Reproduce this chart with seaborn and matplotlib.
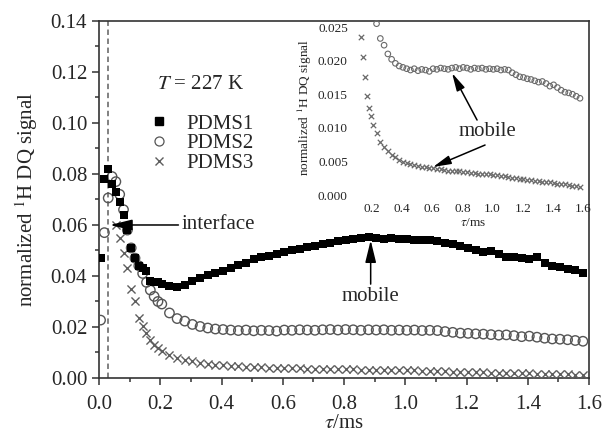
import numpy as np
import pandas as pd
import matplotlib
matplotlib.use("Agg")
import matplotlib.pyplot as plt
from matplotlib.lines import Line2D
from matplotlib.ticker import MultipleLocator, FormatStrFormatter
import seaborn as sns

# DQ evolution time (ms)
tau = [0.005, 0.0175, 0.03, 0.0425, 0.055, 0.0675, 0.08, 0.0925, 0.105, 0.1175,
       0.13, 0.1425, 0.155, 0.1675, 0.18, 0.1925, 0.205,
       0.23, 0.255, 0.28, 0.305, 0.33, 0.355, 0.38, 0.405, 0.43, 0.455,
       0.48, 0.505, 0.53, 0.555, 0.58, 0.605, 0.63, 0.655, 0.68, 0.705,
       0.73, 0.755, 0.78, 0.805, 0.83, 0.855, 0.88, 0.905, 0.93, 0.955,
       0.98, 1.005, 1.03, 1.055, 1.08, 1.105, 1.13, 1.155, 1.18, 1.205,
       1.23, 1.255, 1.28, 1.305, 1.33, 1.355, 1.38, 1.405, 1.43, 1.455,
       1.48, 1.505, 1.53, 1.555, 1.58]

# normalized 1H DQ signal of the three samples
pdms1 = [0.047, 0.078, 0.082, 0.076, 0.073, 0.069, 0.064, 0.058, 0.051, 0.047,
         0.044, 0.043, 0.042, 0.038, 0.0375, 0.0375, 0.037,
         0.0362, 0.0358, 0.0365, 0.0382, 0.0393, 0.0402, 0.0412, 0.042, 0.0432, 0.0442,
         0.0452, 0.0465, 0.0473, 0.0478, 0.0488, 0.0496, 0.0502, 0.0507, 0.0513, 0.0518,
         0.0525, 0.053, 0.0536, 0.054, 0.0545, 0.0548, 0.0553, 0.0549, 0.0546, 0.0548,
         0.0546, 0.0544, 0.0542, 0.0543, 0.054, 0.0536, 0.0531, 0.0526, 0.0518, 0.051,
         0.0502, 0.0494, 0.0498, 0.0486, 0.0476, 0.0474, 0.0472, 0.0468, 0.0474, 0.0452,
         0.0438, 0.0434, 0.0428, 0.0422, 0.0412]

pdms2 = [0.0227, 0.057, 0.0706, 0.079, 0.077, 0.072, 0.066, 0.058, 0.051, 0.047,
         0.044, 0.041, 0.0375, 0.0345, 0.032, 0.030, 0.029,
         0.0255, 0.0233, 0.0223, 0.021, 0.0202, 0.0196, 0.0192, 0.019, 0.0188, 0.0186,
         0.0188, 0.0185, 0.0187, 0.0186, 0.0184, 0.0188, 0.0187, 0.0189, 0.0188, 0.0187,
         0.0189, 0.019, 0.0188, 0.019, 0.0189, 0.0187, 0.0189, 0.0188, 0.0189, 0.0187,
         0.0188, 0.0187, 0.0188, 0.0186, 0.0187, 0.0186, 0.0182, 0.0179, 0.0176, 0.0175,
         0.0173, 0.0172, 0.017, 0.0168, 0.0169, 0.0166, 0.0162, 0.0164, 0.016, 0.0156,
         0.0153, 0.0152, 0.015, 0.0147, 0.0144]

pdms3 = [np.nan, np.nan, np.nan, np.nan, 0.060, 0.055, 0.049, 0.043, 0.035, 0.030,
         0.0235, 0.0205, 0.0175, 0.0148, 0.013, 0.0118, 0.0104,
         0.0092, 0.0079, 0.0072, 0.0065, 0.006, 0.0056, 0.0052, 0.0049, 0.0047, 0.0046,
         0.0044, 0.0043, 0.0042, 0.0041, 0.004, 0.004, 0.0039, 0.0038, 0.0037, 0.0036,
         0.0036, 0.0035, 0.0035, 0.0034, 0.0034, 0.0033, 0.0033, 0.0032, 0.0032, 0.0031,
         0.0031, 0.003, 0.003, 0.0029, 0.0028, 0.0027, 0.0026, 0.0025, 0.0024, 0.0024,
         0.0023, 0.0022, 0.0021, 0.0021, 0.002, 0.0019, 0.0019, 0.0018, 0.0017, 0.0017,
         0.0016, 0.0015, 0.0014, 0.0013, 0.0012]

samples = ["PDMS1", "PDMS2", "PDMS3"]
temperature_label = "$T$ = 227 K"
interface_tau = 0.03

df = pd.DataFrame({"tau": tau, "PDMS1": pdms1, "PDMS2": pdms2, "PDMS3": pdms3})

sns.set_theme(style="ticks")
plt.rcParams["font.family"] = ["Liberation Serif", "DejaVu Serif"]
plt.rcParams["mathtext.fontset"] = "stix"
plt.rcParams["axes.edgecolor"] = "#333333"

FS = 15
fig = plt.figure(figsize=(6.06, 4.41), dpi=100)
ax = fig.add_axes([0.1634, 0.1429, 0.8086, 0.8095])

circ_col = "#555555"
cross_col = "#5e5e5e"

sns.scatterplot(data=df, x="tau", y="PDMS3", marker="x", color=cross_col,
                s=34, linewidth=1.0, ax=ax, zorder=3)
sns.scatterplot(data=df, x="tau", y="PDMS2", marker="o", color=circ_col,
                edgecolor=circ_col, s=46, linewidth=1.0, ax=ax, zorder=3)
ax.collections[-1].set_facecolor("none")
sns.scatterplot(data=df, x="tau", y="PDMS1", marker="s", color="black",
                s=36, linewidth=0, ax=ax, zorder=4)

ax.axvline(interface_tau, color="#777777", ls=(0, (3, 2)), lw=1.3, zorder=1)

ax.set_xlim(0, 1.6)
ax.set_ylim(0, 0.14)
ax.xaxis.set_major_locator(MultipleLocator(0.2))
ax.xaxis.set_minor_locator(MultipleLocator(0.1))
ax.yaxis.set_major_locator(MultipleLocator(0.02))
ax.yaxis.set_minor_locator(MultipleLocator(0.01))
ax.xaxis.set_major_formatter(FormatStrFormatter("%.1f"))
ax.yaxis.set_major_formatter(FormatStrFormatter("%.2f"))
ax.tick_params(which="both", direction="out", top=False, right=False,
               color="#333333", width=1.1, labelsize=FS)
ax.tick_params(which="major", length=5)
ax.tick_params(which="minor", length=3)
ax.tick_params(axis="x", which="major", pad=7)
for sp in ax.spines.values():
    sp.set_visible(True)
    sp.set_linewidth(1.2)

ax.set_xlabel(r"$\tau$/ms", fontsize=FS, labelpad=0)
ax.set_ylabel(r"normalized $^{1}$H DQ signal", fontsize=FS, labelpad=8)

ax.text(0.189, 0.1149, temperature_label, fontsize=FS, ha="left", va="center")
handles = [
    Line2D([], [], ls="", marker="s", color="black", markersize=6),
    Line2D([], [], ls="", marker="o", markerfacecolor="none",
           markeredgecolor=circ_col, markersize=6.5, markeredgewidth=0.9),
    Line2D([], [], ls="", marker="x", color=cross_col, markersize=6,
           markeredgewidth=1.0),
]
leg = ax.legend(handles, samples, loc="upper left",
                bbox_to_anchor=(0.105, 0.739), frameon=False, fontsize=FS,
                handlelength=0.8, handletextpad=0.9,
                labelspacing=0.0, borderpad=0, borderaxespad=0)

arrow_kw = dict(arrowstyle="-|>,head_width=0.22,head_length=0.9",
                color="black", lw=1.1, shrinkA=0, shrinkB=0)
ax.annotate("interface", xy=(0.036, 0.060), xytext=(0.27, 0.060),
            fontsize=FS, va="center", ha="left", arrowprops=arrow_kw)
ax.annotate("mobile", xy=(0.887, 0.054), xytext=(0.887, 0.0318),
            fontsize=FS, va="center", ha="center",
            arrowprops=dict(arrow_kw, relpos=(0.5, 1.0)))

# inset: mobile-phase plateau at higher magnification
ins = fig.add_axes([0.5878, 0.5578, 0.3842, 0.3961])
ins.set_facecolor("none")
sns.scatterplot(data=df, x="tau", y="PDMS2", marker="o", color="#6a6a6a",
                edgecolor="#6a6a6a", s=16, linewidth=0.8, ax=ins)
ins.collections[-1].set_facecolor("none")
sns.scatterplot(data=df, x="tau", y="PDMS3", marker="x", color="#6a6a6a",
                s=15, linewidth=0.9, ax=ins)
ins.set_xlim(0.095, 1.64)
ins.set_ylim(0, 0.026)
ins.yaxis.set_major_locator(MultipleLocator(0.005))
ins.xaxis.set_major_formatter(FormatStrFormatter("%.1f"))
ins.yaxis.set_major_formatter(FormatStrFormatter("%.3f"))
ins.set_xticks([0.2, 0.4, 0.6, 0.8, 1.0, 1.2, 1.4, 1.6])
ins.tick_params(length=0, labelsize=9.5, pad=6)
for sp in ins.spines.values():
    sp.set_visible(False)
ins.set_xlabel(r"$\tau$/ms", fontsize=9.5, labelpad=1)
ins.set_ylabel(r"normalized $^{1}$H DQ signal", fontsize=9.5, labelpad=3)

ins.annotate("", xy=(0.731, 0.01815), xytext=(0.897, 0.01116),
             arrowprops=arrow_kw)
ins.annotate("", xy=(0.605, 0.00417), xytext=(0.95, 0.00744),
             arrowprops=arrow_kw)
ins.text(0.963, 0.00938, "mobile", fontsize=FS, ha="center", va="center")

fig.savefig("out.png", dpi=100)
